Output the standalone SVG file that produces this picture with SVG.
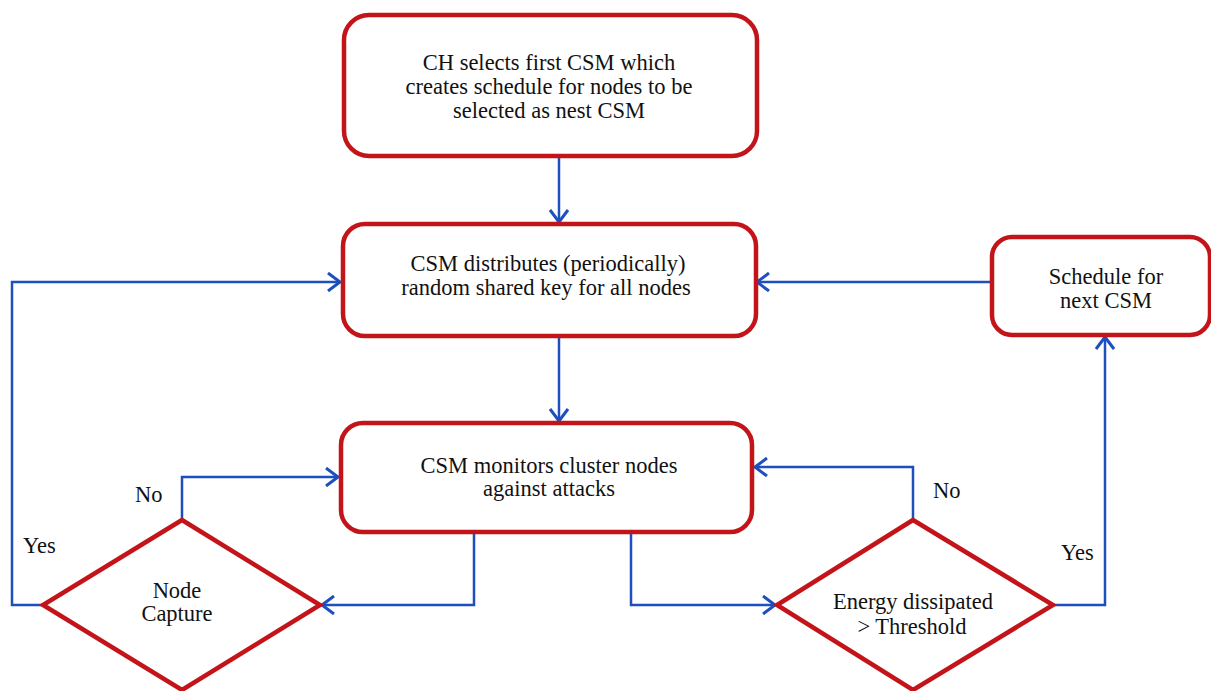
<svg xmlns="http://www.w3.org/2000/svg" width="1211" height="691" viewBox="0 0 1211 691">
<style>
.box{fill:#fff;stroke:#c3141a;stroke-width:4.5}
.t{font-family:'Liberation Serif','Times New Roman',serif;font-size:22.5px;fill:#111;text-anchor:middle}
.l{font-family:'Liberation Serif','Times New Roman',serif;font-size:22.5px;fill:#111}
.c{fill:none;stroke:#1d4fbf;stroke-width:2.5}
</style>
<defs>
<marker id="ah" markerWidth="20" markerHeight="20" refX="15" refY="10" orient="auto" markerUnits="userSpaceOnUse">
<path d="M3,1 L15,10 L3,19" fill="none" stroke="#1d4fbf" stroke-width="3"/>
</marker>
</defs>
<rect width="1211" height="691" fill="#fff"/>
<g id="connectors">
<path class="c" d="M559,157 V222" marker-end="url(#ah)"/>
<path class="c" d="M559,337 V421" marker-end="url(#ah)"/>
<path class="c" d="M43,605 H12 V282 H340" marker-end="url(#ah)"/>
<path class="c" d="M182,520 V477 H338" marker-end="url(#ah)"/>
<path class="c" d="M474,532 V605 H322" marker-end="url(#ah)"/>
<path class="c" d="M631,532 V605 H775" marker-end="url(#ah)"/>
<path class="c" d="M913,520 V467 H755" marker-end="url(#ah)"/>
<path class="c" d="M1053,605 H1105 V337" marker-end="url(#ah)"/>
<path class="c" d="M992,282 H757" marker-end="url(#ah)"/>
</g>
<g id="n1">
<rect class="box" x="344" y="15" width="413" height="141" rx="25"/>
<text class="t" x="549" y="70">CH selects first CSM which</text>
<text class="t" x="549" y="94">creates schedule for nodes to be</text>
<text class="t" x="549" y="118">selected as nest CSM</text>
</g>
<g id="n2">
<rect class="box" x="343" y="224" width="413" height="112" rx="22"/>
<text class="t" x="548" y="271">CSM distributes (periodically)</text>
<text class="t" x="546" y="295">random shared key for all nodes</text>
</g>
<g id="n3">
<rect class="box" x="341" y="423" width="411" height="109" rx="22"/>
<text class="t" x="549" y="473">CSM monitors cluster nodes</text>
<text class="t" x="549" y="496">against attacks</text>
</g>
<g id="n4">
<rect class="box" x="992" y="237" width="218" height="98" rx="20"/>
<text class="t" x="1106" y="284">Schedule for</text>
<text class="t" x="1106" y="308">next CSM</text>
</g>
<g id="d1">
<polygon class="box" points="182,520 320,605 182,690 43,605"/>
<text class="t" x="177" y="598">Node</text>
<text class="t" x="177" y="621">Capture</text>
</g>
<g id="d2">
<polygon class="box" points="913,520 1053,605 913,690 777,605"/>
<text class="t" x="913" y="609">Energy dissipated</text>
<text class="t" x="912" y="634">&gt; Threshold</text>
</g>
<g id="labels">
<text class="l" x="135" y="502">No</text>
<text class="l" x="23" y="553">Yes</text>
<text class="l" x="933" y="498">No</text>
<text class="l" x="1061" y="560">Yes</text>
</g>
</svg>
